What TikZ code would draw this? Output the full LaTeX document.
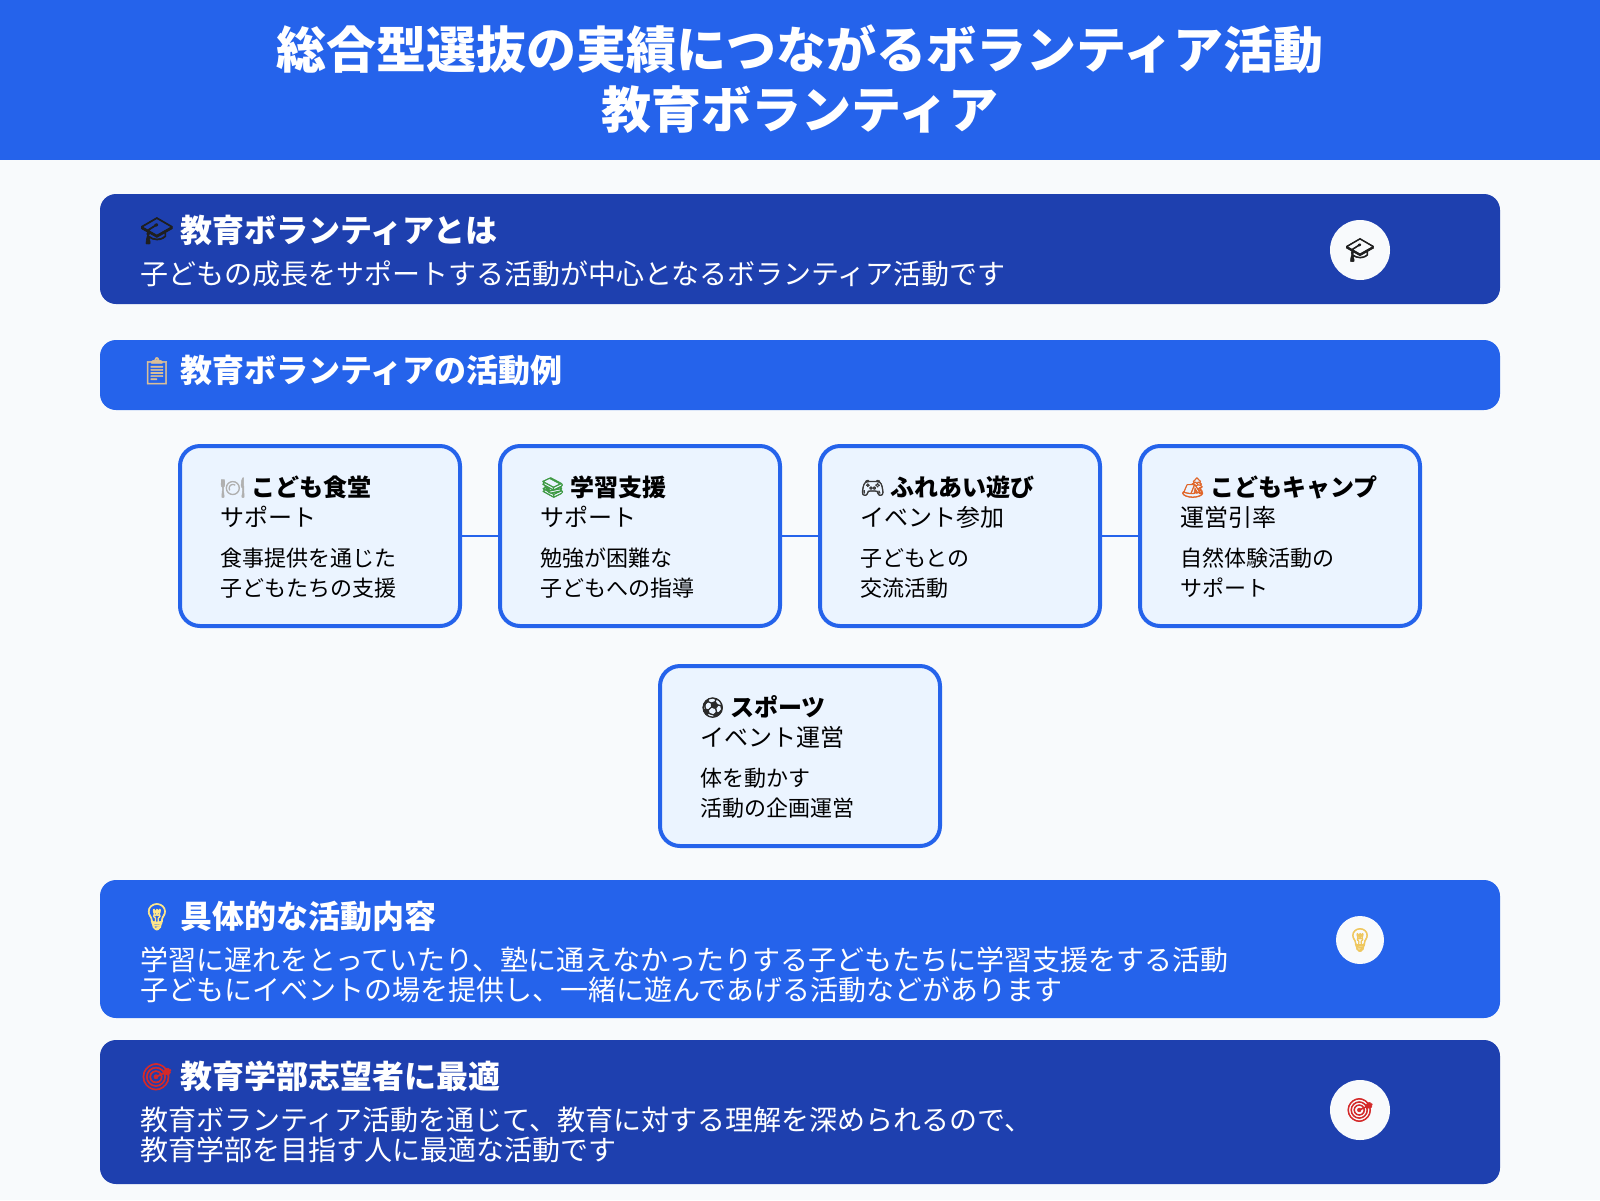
\documentclass[tikz,border=0pt]{standalone}
\usepackage{fontspec}
\setmainfont{Noto Sans CJK JP}
\newfontfamily\emojifont{Noto Emoji}[FakeBold=2.5]
\usepackage{tikz}

\definecolor{pagebg}{HTML}{F8FAFC}
\definecolor{mainblue}{HTML}{2563EB}
\definecolor{deepblue}{HTML}{1E40AF}
\definecolor{cardbg}{HTML}{EBF4FF}
\definecolor{captone}{HTML}{1F1F1F}
\definecolor{cliptone}{HTML}{D9BE98}
\definecolor{platetone}{HTML}{B0B0B0}
\definecolor{booktone}{HTML}{3F9A45}
\definecolor{padtone}{HTML}{3A3A3A}
\definecolor{tenttone}{HTML}{E0662A}
\definecolor{balltone}{HTML}{2A2A2A}
\definecolor{bulbtone}{HTML}{FDE68A}
\definecolor{bulbdark}{HTML}{EFC75E}
\definecolor{dartone}{HTML}{D42A2A}

\newcommand{\emo}[3]{\makebox[#3][l]{\raisebox{.07em}{\scalebox{.82}{\emojifont\textcolor{#1}{#2}}}}}

\tikzset{
  banner/.style={rounded corners=16pt, minimum width=1400pt, inner sep=0pt, outer sep=0pt},
  badge/.style={circle, fill=pagebg, inner sep=0pt, outer sep=0pt},
  cardbox/.style={draw=mainblue, line width=4pt, fill=cardbg, rounded corners=20pt, minimum width=280pt, minimum height=180pt, inner sep=0pt},
  link/.style={draw=mainblue, line width=2pt},
  titletext/.style={text=white, anchor=base, inner sep=0pt, font=\fontsize{50}{50}\selectfont\bfseries},
  headtext/.style={text=white, anchor=base west, inner sep=0pt, font=\fontsize{32}{32}\selectfont\bfseries},
  bodytext/.style={text=white, anchor=base west, inner sep=0pt, font=\fontsize{28}{28}\selectfont},
  cardhead/.style={text=black, anchor=base west, inner sep=0pt, font=\fontsize{24}{24}\selectfont\bfseries},
  cardsub/.style={text=black, anchor=base west, inner sep=0pt, font=\fontsize{24}{24}\selectfont},
  carddesc/.style={text=black, anchor=base west, inner sep=0pt, font=\fontsize{22}{22}\selectfont},
  badgeicon/.style={inner sep=0pt, font=\fontsize{23}{23}\selectfont\emojifont}
}

\begin{document}
\begin{tikzpicture}[x=1pt, y=-1pt]
\useasboundingbox (0,0) rectangle (1600,1200);
\fill[pagebg] (0,0) rectangle (1600,1200);
\fill[mainblue] (0,0) rectangle (1600,160);
\node[titletext] (title1) at (800,68) {総合型選抜の実績につながるボランティア活動};
\node[titletext] (title2) at (800,128) {教育ボランティア};

% what it is
\node[banner, fill=deepblue, minimum height=110pt] (whatbox) at (800,249) {};
\node[headtext] (whathead) at (140,242) {\emo{captone}{🎓}{40pt}教育ボランティアとは};
\node[bodytext] (whatbody) at (140,284) {子どもの成長をサポートする活動が中心となるボランティア活動です};
\node[badge, minimum size=60pt] (whatbadge) at (1360,250) {};
\node[badgeicon, text=captone] (whaticon) at (whatbadge) {🎓};

% examples
\node[banner, fill=mainblue, minimum height=70pt] (listbox) at (800,375) {};
\node[headtext] (listhead) at (140,382) {\emo{cliptone}{📋}{40pt}教育ボランティアの活動例};

\node[cardbox] (card1) at (320,536) {};
\node[cardbox] (card2) at (640,536) {};
\node[cardbox] (card3) at (960,536) {};
\node[cardbox] (card4) at (1280,536) {};
\node[cardbox] (card5) at (800,756) {};
\draw[link] (card1) -- (card2);
\draw[link] (card2) -- (card3);
\draw[link] (card3) -- (card4);

\node[cardhead] (head1) at (220,496) {\emo{platetone}{🍽}{31pt}こども食堂};
\node[cardsub] (sub1) at (220,526) {サポート};
\node[carddesc] (desc1a) at (220,566) {食事提供を通じた};
\node[carddesc] (desc1b) at (220,596) {子どもたちの支援};

\node[cardhead] (head2) at (540,496) {\emo{booktone}{📚}{30pt}学習支援};
\node[cardsub] (sub2) at (540,526) {サポート};
\node[carddesc] (desc2a) at (540,566) {勉強が困難な};
\node[carddesc] (desc2b) at (540,596) {子どもへの指導};

\node[cardhead] (head3) at (860,496) {\emo{padtone}{🎮}{30pt}ふれあい遊び};
\node[cardsub] (sub3) at (860,526) {イベント参加};
\node[carddesc] (desc3a) at (860,566) {子どもとの};
\node[carddesc] (desc3b) at (860,596) {交流活動};

\node[cardhead] (head4) at (1180,496) {\emo{tenttone}{🏕}{30pt}こどもキャンプ};
\node[cardsub] (sub4) at (1180,526) {運営引率};
\node[carddesc] (desc4a) at (1180,566) {自然体験活動の};
\node[carddesc] (desc4b) at (1180,596) {サポート};

\node[cardhead] (head5) at (700,716) {\emo{balltone}{⚽}{30pt}スポーツ};
\node[cardsub] (sub5) at (700,746) {イベント運営};
\node[carddesc] (desc5a) at (700,786) {体を動かす};
\node[carddesc] (desc5b) at (700,816) {活動の企画運営};

% details
\node[banner, fill=mainblue, minimum height=138pt] (detailbox) at (800,949) {};
\node[headtext] (detailhead) at (140,928) {\emo{bulbtone}{💡}{40pt}具体的な活動内容};
\node[bodytext] (detailbody1) at (140,970) {学習に遅れをとっていたり、塾に通えなかったりする子どもたちに学習支援をする活動};
\node[bodytext] (detailbody2) at (140,1000) {子どもにイベントの場を提供し、一緒に遊んであげる活動などがあります};
\node[badge, minimum size=48pt] (detailbadge) at (1360,940) {};
\node[badgeicon, text=bulbdark] (detailicon) at (detailbadge) {💡};

% best for
\node[banner, fill=deepblue, minimum height=144pt] (bestbox) at (800,1112) {};
\node[headtext] (besthead) at (140,1088) {\emo{dartone}{🎯}{40pt}教育学部志望者に最適};
\node[bodytext] (bestbody1) at (140,1130) {教育ボランティア活動を通じて、教育に対する理解を深められるので、};
\node[bodytext] (bestbody2) at (140,1160) {教育学部を目指す人に最適な活動です};
\node[badge, minimum size=60pt] (bestbadge) at (1360,1110) {};
\node[badgeicon, text=dartone] (besticon) at (bestbadge) {🎯};
\end{tikzpicture}
\end{document}
